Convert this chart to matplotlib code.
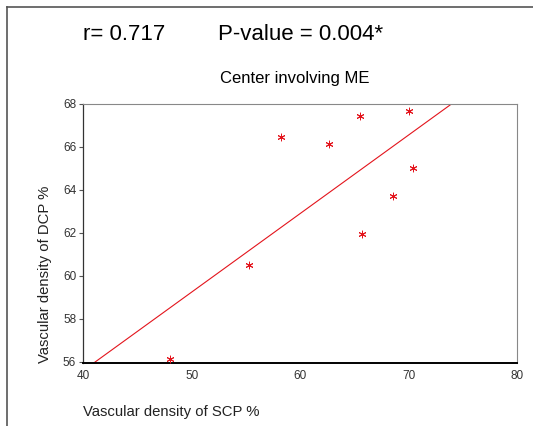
import matplotlib
matplotlib.use('Agg')
import matplotlib.pyplot as plt
import numpy as np
from matplotlib.lines import Line2D

# SCP vs DCP vascular density (%)
scp = [48.0, 55.3, 58.2, 62.7, 65.5, 70.0, 70.4, 68.6, 65.7]
dcp = [56.15, 60.5, 66.45, 66.15, 67.45, 67.65, 65.0, 63.7, 61.95]
x_ticks = [40, 50, 60, 70, 80]
y_ticks = [56, 58, 60, 62, 64, 66, 68]

plt.rcParams['font.family'] = ['Liberation Sans', 'DejaVu Sans']

fig = plt.figure(figsize=(5.33, 4.26), dpi=100)
ax = fig.add_axes([0.156, 0.148, 0.814, 0.608])

# outer frame (top and left only)
fig.add_artist(Line2D([0.013, 1.0], [0.984, 0.984], color='#555555', lw=1.2))
fig.add_artist(Line2D([0.013, 0.013], [0.0, 0.984], color='#555555', lw=1.2))

ax.scatter(scp, dcp, marker=(6, 2, 0), s=24, color='#e3141c', linewidths=0.7, zorder=3)

cof = np.polyfit(scp, dcp, 1)
xs = np.array([30, 90])
ax.plot(xs, np.poly1d(cof)(xs), color='#e3141c', lw=0.8)

ax.set_xlim(40, 80)
ax.set_ylim(55.95, 68)
ax.set_xticks(x_ticks)
ax.set_yticks(y_ticks)
tick_font = ['Liberation Sans Narrow', 'Liberation Sans']
for lab in ax.get_xticklabels() + ax.get_yticklabels():
    lab.set_family(tick_font)
    lab.set_fontsize(8.5)
    lab.set_color('#333333')
ax.tick_params(axis='both', length=3, width=0.8, color='#555555', pad=2)
ax.tick_params(axis='x', length=0, pad=5)

ax.spines['bottom'].set_linewidth(1.4)
ax.spines['bottom'].set_color('black')
ax.spines['left'].set_linewidth(0.9)
ax.spines['left'].set_color('#333333')
ax.spines['top'].set_color('#888888')
ax.spines['right'].set_color('#888888')

fig.text(83 / 533, 1 - 35 / 426, 'r= 0.717', fontsize=16, va='center', ha='left')
fig.text(218 / 533, 1 - 35 / 426, 'P-value = 0.004*', fontsize=16, va='center', ha='left')
fig.text(295 / 533, 1 - 78 / 426, 'Center involving ME', fontsize=12, va='center', ha='center')
fig.text(83 / 533, 1 - 412 / 426, 'Vascular density of SCP %', fontsize=10.7,
         va='center', ha='left', color='#222222')
fig.text(45 / 533, 1 - 274 / 426, 'Vascular density of DCP %', fontsize=10.7,
         va='center', ha='center', rotation=90, color='#222222')

plt.savefig('out.png', dpi=100)
